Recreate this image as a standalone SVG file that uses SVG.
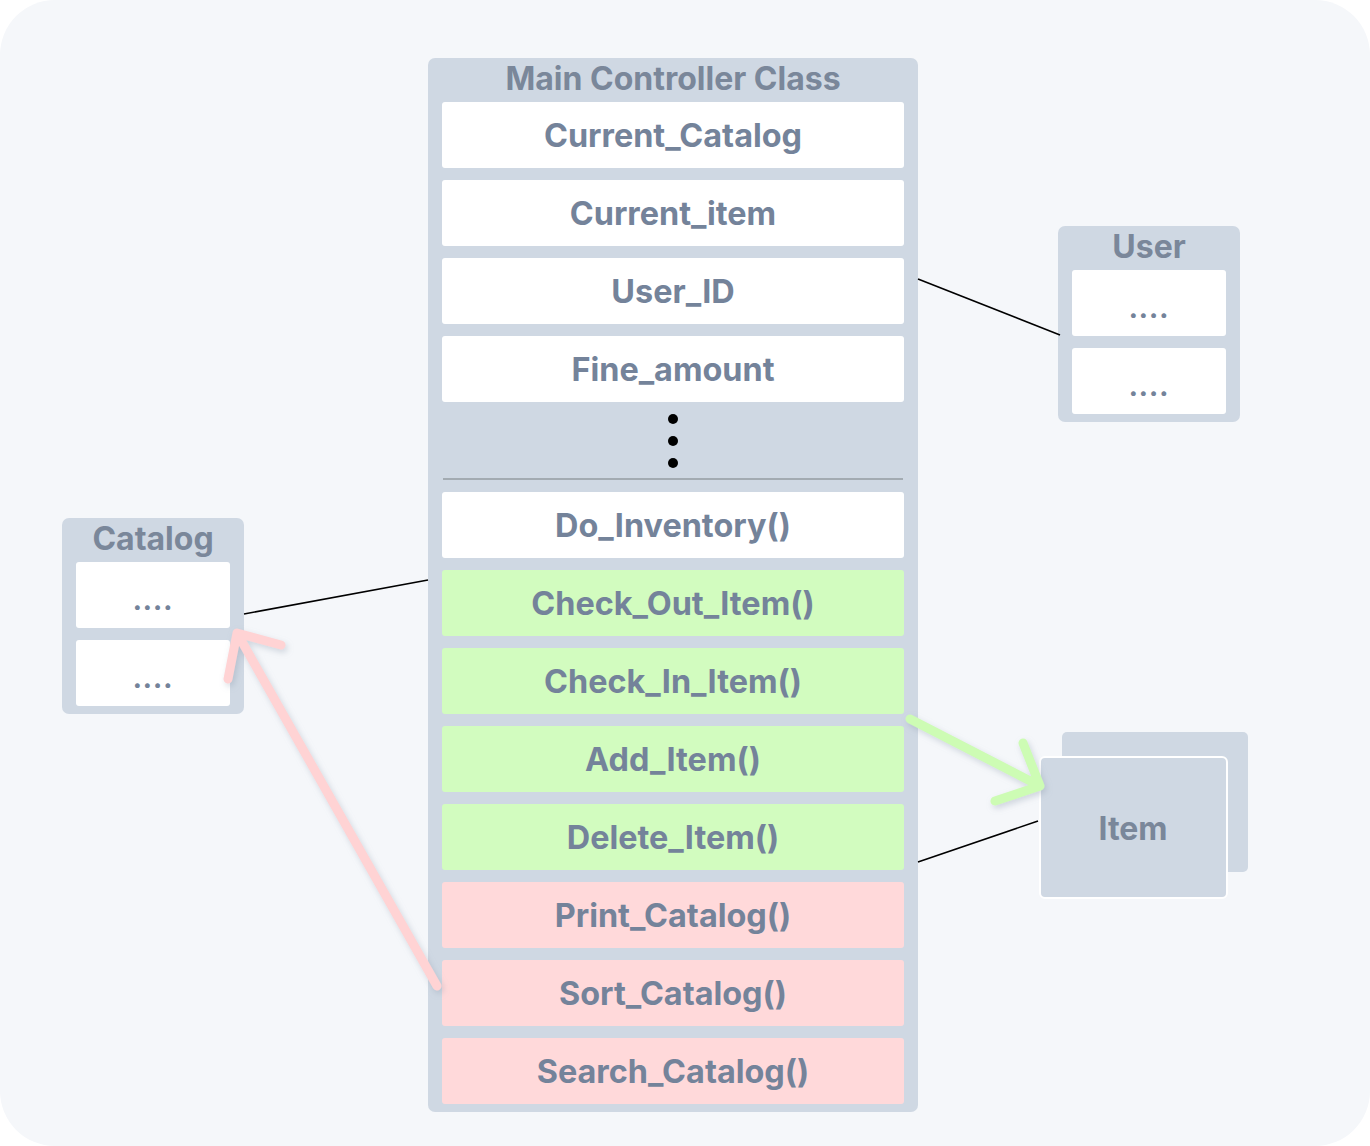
<svg xmlns="http://www.w3.org/2000/svg" width="1370" height="1146" viewBox="0 0 1370 1146">
<defs>
<style>
.box{fill:#cfd8e3}
.row{fill:#ffffff}
.g{fill:#d2fcbf}
.p{fill:#ffd9da}
.t{font-family:Inter,"Liberation Sans",sans-serif;font-weight:700;font-size:32.4px;fill:#74839a;text-anchor:middle}
.tt{font-family:Inter,"Liberation Sans",sans-serif;font-weight:700;font-size:32px;fill:#7a879a;text-anchor:middle}
.d{font-family:Inter,"Liberation Sans",sans-serif;font-weight:800;font-size:26px;letter-spacing:1px;fill:#74839a;text-anchor:middle}
.ln{stroke:#000;stroke-width:1.6;fill:none}
.arr{fill:none;stroke-width:9;stroke-linecap:round;stroke-linejoin:round}
</style>
<filter id="sh" x="-20%" y="-20%" width="140%" height="140%">
<feDropShadow dx="2" dy="3" stdDeviation="3" flood-color="#8896a8" flood-opacity="0.35"/>
</filter>
</defs>
<rect x="0" y="0" width="1370" height="1146" rx="55" fill="#f5f7fa"/>

<g id="main">
<rect class="box" x="428" y="58" width="490" height="1054" rx="7"/>
<text class="tt" x="673" y="90">Main Controller Class</text>
<rect class="row" x="442" y="102" width="462" height="66" rx="3"/>
<text class="t" x="673" y="147">Current_Catalog</text>
<rect class="row" x="442" y="180" width="462" height="66" rx="3"/>
<text class="t" x="673" y="225">Current_item</text>
<rect class="row" x="442" y="258" width="462" height="66" rx="3"/>
<text class="t" x="673" y="303">User_ID</text>
<rect class="row" x="442" y="336" width="462" height="66" rx="3"/>
<text class="t" x="673" y="381">Fine_amount</text>
<circle cx="673" cy="419" r="5" fill="#000"/>
<circle cx="673" cy="441" r="5" fill="#000"/>
<circle cx="673" cy="463" r="5" fill="#000"/>
<line x1="443" y1="479" x2="903" y2="479" stroke="#a3abb2" stroke-width="2"/>
<rect class="row" x="442" y="492" width="462" height="66" rx="3"/>
<text class="t" x="673" y="537">Do_Inventory()</text>
<rect class="g" x="442" y="570" width="462" height="66" rx="3"/>
<text class="t" x="673" y="615">Check_Out_Item()</text>
<rect class="g" x="442" y="648" width="462" height="66" rx="3"/>
<text class="t" x="673" y="693">Check_In_Item()</text>
<rect class="g" x="442" y="726" width="462" height="66" rx="3"/>
<text class="t" x="673" y="771">Add_Item()</text>
<rect class="g" x="442" y="804" width="462" height="66" rx="3"/>
<text class="t" x="673" y="849">Delete_Item()</text>
<rect class="p" x="442" y="882" width="462" height="66" rx="3"/>
<text class="t" x="673" y="927">Print_Catalog()</text>
<rect class="p" x="442" y="960" width="462" height="66" rx="3"/>
<text class="t" x="673" y="1005">Sort_Catalog()</text>
<rect class="p" x="442" y="1038" width="462" height="66" rx="3"/>
<text class="t" x="673" y="1083">Search_Catalog()</text>
</g>

<g id="user">
<rect class="box" x="1058" y="226" width="182" height="196" rx="7"/>
<text class="tt" x="1149" y="258">User</text>
<rect class="row" x="1072" y="270" width="154" height="66" rx="3"/>
<text class="d" x="1149" y="318">....</text>
<rect class="row" x="1072" y="348" width="154" height="66" rx="3"/>
<text class="d" x="1149" y="396">....</text>
</g>

<g id="catalog">
<rect class="box" x="62" y="518" width="182" height="196" rx="7"/>
<text class="tt" x="153" y="550">Catalog</text>
<rect class="row" x="76" y="562" width="154" height="66" rx="3"/>
<text class="d" x="153" y="610">....</text>
<rect class="row" x="76" y="640" width="154" height="66" rx="3"/>
<text class="d" x="153" y="688">....</text>
</g>

<g id="item">
<rect class="box" x="1062" y="732" width="186" height="140" rx="5"/>
<rect class="box" x="1040" y="757" width="187" height="141" rx="5" stroke="#ffffff" stroke-width="2"/>
<text class="tt" x="1133" y="840">Item</text>
</g>

<g id="connectors">
<line class="ln" x1="918" y1="279" x2="1060" y2="335"/>
<line class="ln" x1="244" y1="614" x2="428" y2="580"/>
<line class="ln" x1="918" y1="862" x2="1038" y2="821"/>
<g filter="url(#sh)">
<path class="arr" stroke="#cdfcb4" d="M910 719 L1040 786 M1023 743 L1040 786 L995 801"/>
<path class="arr" stroke="#ffd3d4" d="M437 986 L237 633 M281 645 L237 633 L228 679"/>
</g>
</g>
</svg>
